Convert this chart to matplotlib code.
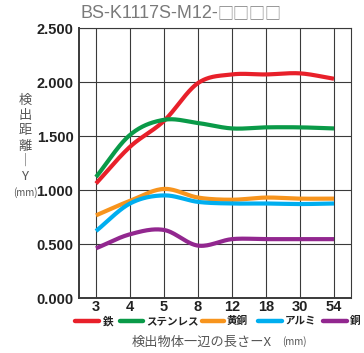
import numpy as np
import matplotlib
matplotlib.use("Agg")
import matplotlib.pyplot as plt
from matplotlib.lines import Line2D

plt.rcParams['font.family'] = ['Noto Sans CJK JP', 'DejaVu Sans']

# Target edge length X (mm) categories
sizes = ["3", "4", "5", "8", "12", "18", "30", "54"]
y_ticks = [0.0, 0.5, 1.0, 1.5, 2.0, 2.5]

# Detection distance Y (mm) per target material
iron = [1.06, 1.40, 1.64, 1.99, 2.07, 2.07, 2.08, 2.03]
stainless = [1.12, 1.51, 1.65, 1.62, 1.57, 1.58, 1.58, 1.57]
brass = [0.765, 0.90, 1.01, 0.93, 0.91, 0.93, 0.92, 0.92]
aluminum = [0.62, 0.875, 0.95, 0.89, 0.875, 0.875, 0.87, 0.875]
copper = [0.46, 0.59, 0.63, 0.485, 0.545, 0.545, 0.545, 0.545]

series = [
    ("鉄", iron, "#e8202a"),
    ("ステンレス", stainless, "#0a9a48"),
    ("黄銅", brass, "#f7941d"),
    ("アルミ", aluminum, "#00aeef"),
    ("銅", copper, "#92278f"),
]


def smooth(y, n=30):
    """Catmull-Rom curve through the points, in category index space."""
    y = np.asarray(y, float)
    x = np.arange(len(y), dtype=float)
    m = np.gradient(y, x)
    xs, ys = [], []
    for i in range(len(y) - 1):
        t = np.linspace(0, 1, n, endpoint=(i == len(y) - 2))
        h00 = 2 * t**3 - 3 * t**2 + 1
        h10 = t**3 - 2 * t**2 + t
        h01 = -2 * t**3 + 3 * t**2
        h11 = t**3 - t**2
        xs.append(x[i] + t)
        ys.append(h00 * y[i] + h10 * m[i] + h01 * y[i + 1] + h11 * m[i + 1])
    return np.concatenate(xs), np.concatenate(ys)


W, H = 364, 353
fig = plt.figure(figsize=(W / 100, H / 100), dpi=100)
ax = fig.add_axes([79 / W, 1 - 298 / H, (351 - 79) / W, (298 - 28) / H])

for name, vals, col in series:
    xs, ys = smooth(vals)
    ax.plot(xs, ys, color=col, lw=3.0, solid_capstyle='butt', zorder=3)

ax.set_xlim(-0.5, len(sizes) - 0.5)
ax.set_ylim(0, 2.5)
ax.set_xticks(range(len(sizes)))
ax.set_xticklabels(sizes)
ax.set_yticks(y_ticks)
ax.set_yticklabels([f"{v:.3f}" for v in y_ticks])
ax.grid(True, color="#3a3a3a", lw=0.8)
ax.tick_params(length=0, labelsize=10.5)
ax.tick_params(axis='x', pad=1.5)
ax.tick_params(axis='y', pad=4)
for lbl in ax.get_xticklabels() + ax.get_yticklabels():
    lbl.set_fontfamily(['Liberation Sans', 'DejaVu Sans'])
    lbl.set_fontweight('bold')
    lbl.set_color('#222222')
for s in ax.spines.values():
    s.set_color("#3a3a3a")
    s.set_linewidth(0.8)
ax.spines['left'].set_linewidth(1.4)
ax.spines['bottom'].set_linewidth(1.4)

# Title: model number with placeholder boxes
fig.text(80 / W, 1 - 14 / H, "BS-K1117S-M12-", ha='left', va='center',
         fontsize=13, color='#7a7a7a', family=['Liberation Sans', 'DejaVu Sans'])
fig.text(217 / W, 1 - 14 / H, "□□□□", ha='left', va='center',
         fontsize=11.5, color='#7a7a7a', fontweight='light')

# Vertical axis caption, stacked characters
ylab = ["検", "出", "距", "離", "｜", "Y"]
for i, ch in enumerate(ylab):
    fig.text(25 / W, 1 - (100 + i * 15.4) / H, ch, ha='center', va='center',
             fontsize=9.5, color='#555555')
fig.text(25 / W, 1 - 193 / H, "(mm)", ha='center', va='center',
         fontsize=7, color='#555555')

# Horizontal axis caption
fig.text(132 / W, 1 - 342 / H, "検出物体一辺の長さーX", ha='left', va='center',
         fontsize=9.5, color='#555555')
fig.text(282 / W, 1 - 342 / H, "(mm)", ha='left', va='center',
         fontsize=7, color='#555555')

# Legend row
legend_pos = [(75, 99, 103), (120, 143, 146), (202, 224, 227), (258, 282, 285), (323, 347, 350)]
ly = 1 - 321 / H
for (name, vals, col), (x0, x1, tx) in zip(series, legend_pos):
    fig.add_artist(Line2D([x0 / W, x1 / W], [ly, ly], color=col, lw=3.2,
                          solid_capstyle='round', transform=fig.transFigure))
    fig.text(tx / W, ly, name, ha='left', va='center', fontsize=7.6,
             fontweight='bold', color='#222222')

fig.savefig("out.png", dpi=100)
